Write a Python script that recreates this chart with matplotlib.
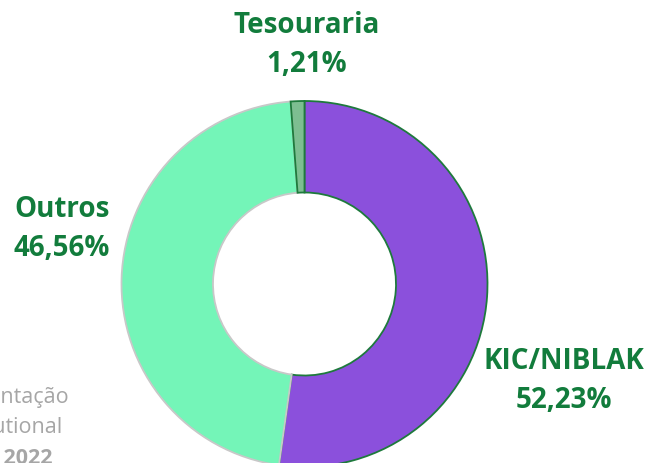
import matplotlib.pyplot as plt

labels = ['KIC/NIBLAK', 'Outros', 'Tesouraria']
values = [52.23, 46.56, 1.21]
colors = ['#8B50DC', '#74F5B8', '#7DBE91']
edges = ['#1E7A3C', '#C8C8C8', '#1E7A3C']

plt.rcParams['font.family'] = ['Open Sans', 'DejaVu Sans']

fig = plt.figure(figsize=(6.51, 4.64), dpi=100)
ax = fig.add_axes([0, 0, 1, 1])

wedges, _ = ax.pie(values, colors=colors, startangle=90, counterclock=False,
                   center=(304.5, 179), radius=183,
                   wedgeprops=dict(width=91.5, linewidth=1.3))
for w, e in zip(wedges, edges):
    w.set_edgecolor(e)
ax.set_xlim(0, 651)
ax.set_ylim(0, 464)
ax.set_aspect('equal')
ax.axis('off')

green = '#127C3C'
label_pos = [(564, 83), (62, 235), (307, 419)]
for lab, v, (x, y) in zip(labels, values, label_pos):
    txt = f'{lab}\n{v:.2f}%'.replace('.', ',')
    ax.text(x, y, txt, ha='center', va='center', fontsize=20, fontweight='bold',
            color=green, linespacing=1.45)

# rodapé cortado na borda, como no original
grey = '#A6A6A6'
ax.text(69, 66, 'Apresentação', ha='right', va='center', fontsize=15.5, color=grey)
ax.text(63, 36, 'Institutional', ha='right', va='center', fontsize=15.5, color=grey)
ax.text(53, 5, 'Junho 2022', ha='right', va='center', fontsize=15.5, color=grey,
        fontweight='bold')

fig.savefig('out.png', dpi=100)
